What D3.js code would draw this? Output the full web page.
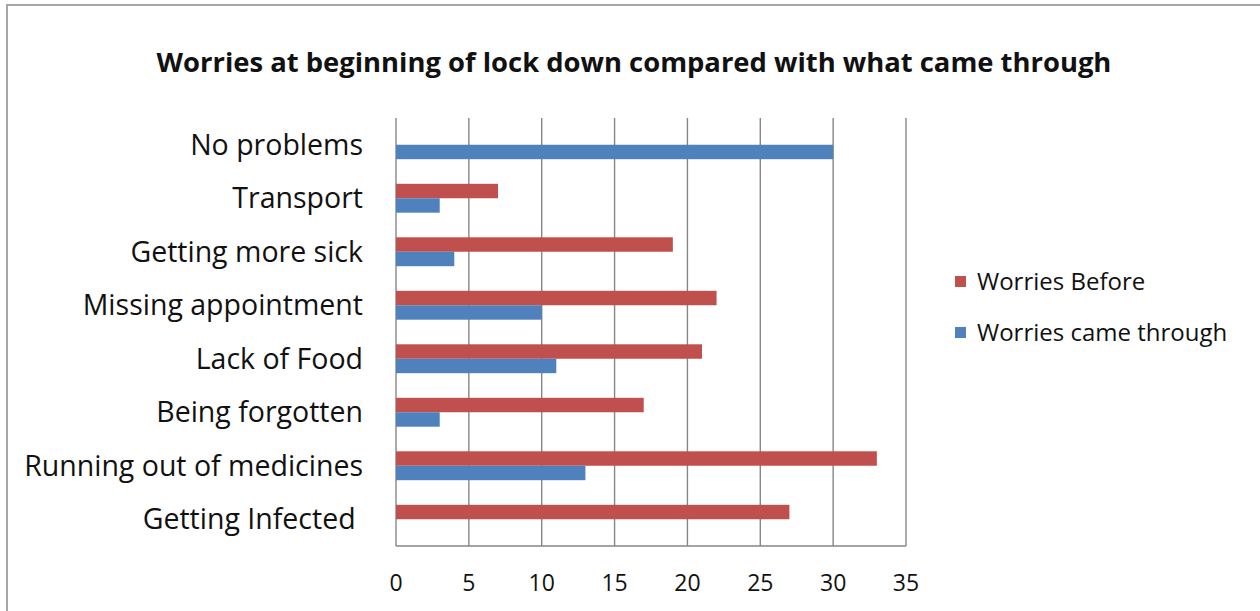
<!DOCTYPE html>
<html lang="en">
<head>
<meta charset="utf-8">
<title>Worries at beginning of lock down</title>
<script src="https://cdn.jsdelivr.net/npm/d3@7/dist/d3.min.js"></script>
<style>
  body { margin: 0; background: #fff; }
  text { font-family: "Open Sans", sans-serif; fill: #111; white-space: pre; }
</style>
</head>
<body>
<div id="chart"></div>
<script>
// categories top to bottom, as in the picture (the last one has a trailing space in the original)
var categories = ["No problems", "Transport", "Getting more sick", "Missing appointment",
                  "Lack of Food", "Being forgotten", "Running out of medicines", "Getting Infected "];
var worriesBefore = [0, 7, 19, 22, 21, 17, 33, 27];
var worriesCame   = [30, 3, 4, 10, 11, 3, 13, 0];
var seriesNames = ["Worries Before", "Worries came through"];
var seriesColors = ["#c0504d", "#4f81bd"];
var xTicks = [0, 5, 10, 15, 20, 25, 30, 35];

var W = 1260, H = 611;
var plot = {left: 396, right: 906, top: 118, bottom: 546};

var svg = d3.select("#chart").append("svg")
    .attr("width", W).attr("height", H);

// outer frame (only the top and left edges show in the crop)
svg.append("rect")
    .attr("x", 7).attr("y", 5)
    .attr("width", W + 20).attr("height", H + 20)
    .attr("fill", "none").attr("stroke", "#a6a6a6").attr("stroke-width", 2);

svg.append("text")
    .attr("x", 634).attr("y", 72)
    .attr("text-anchor", "middle")
    .style("font-size", "27.4px").style("font-weight", "bold")
    .text("Worries at beginning of lock down compared with what came through");

var x = d3.scaleLinear().domain([0, 35]).range([plot.left, plot.right]);
var y = d3.scaleBand().domain(categories).range([plot.top, plot.bottom]).paddingInner(0.46).paddingOuter(0.23);
var sub = d3.scaleBand().domain(seriesNames).range([0, y.bandwidth()]);

// vertical gridlines
svg.append("g").selectAll("line")
    .data(xTicks)
    .enter().append("line")
    .attr("x1", function(d) { return x(d); })
    .attr("x2", function(d) { return x(d); })
    .attr("y1", plot.top).attr("y2", plot.bottom)
    .attr("stroke", "#868686").attr("stroke-width", 1.4);

// bottom axis line
svg.append("line")
    .attr("x1", plot.left).attr("x2", plot.right)
    .attr("y1", plot.bottom).attr("y2", plot.bottom)
    .attr("stroke", "#868686").attr("stroke-width", 1.4);

var table = categories.map(function(c, i) {
    return {cat: c, vals: [worriesBefore[i], worriesCame[i]]};
});

var groups = svg.append("g").selectAll("g")
    .data(table)
    .enter().append("g")
    .attr("transform", function(d) { return "translate(0," + y(d.cat) + ")"; });

groups.selectAll("rect")
    .data(function(d) { return d.vals.map(function(v, j) { return {v: v, s: seriesNames[j], c: seriesColors[j]}; }); })
    .enter().append("rect")
    .attr("x", x(0))
    .attr("y", function(d) { return sub(d.s); })
    .attr("width", function(d) { return x(d.v) - x(0); })
    .attr("height", sub.bandwidth())
    .attr("fill", function(d) { return d.c; });

// category labels
svg.append("g").selectAll("text")
    .data(categories)
    .enter().append("text")
    .attr("x", 363)
    .attr("y", function(d) { return y(d) + y.bandwidth() / 2; })
    .attr("text-anchor", "end")
    .attr("dy", "0.35em")
    .style("font-size", "28.5px")
    .text(function(d) { return d; });

// x tick labels
svg.append("g").selectAll("text")
    .data(xTicks)
    .enter().append("text")
    .attr("x", function(d) { return x(d); })
    .attr("y", 591)
    .attr("text-anchor", "middle")
    .style("font-size", "23px")
    .text(function(d) { return d; });

// legend
var legend = svg.append("g").selectAll("g")
    .data(seriesNames)
    .enter().append("g")
    .attr("transform", function(d, i) { return "translate(955," + (276 + i * 51) + ")"; });
legend.append("rect")
    .attr("width", 11).attr("height", 11)
    .attr("fill", function(d, i) { return seriesColors[i]; });
legend.append("text")
    .attr("x", 22).attr("y", 14)
    .style("font-size", "24px")
    .text(function(d) { return d; });
</script>
</body>
</html>
